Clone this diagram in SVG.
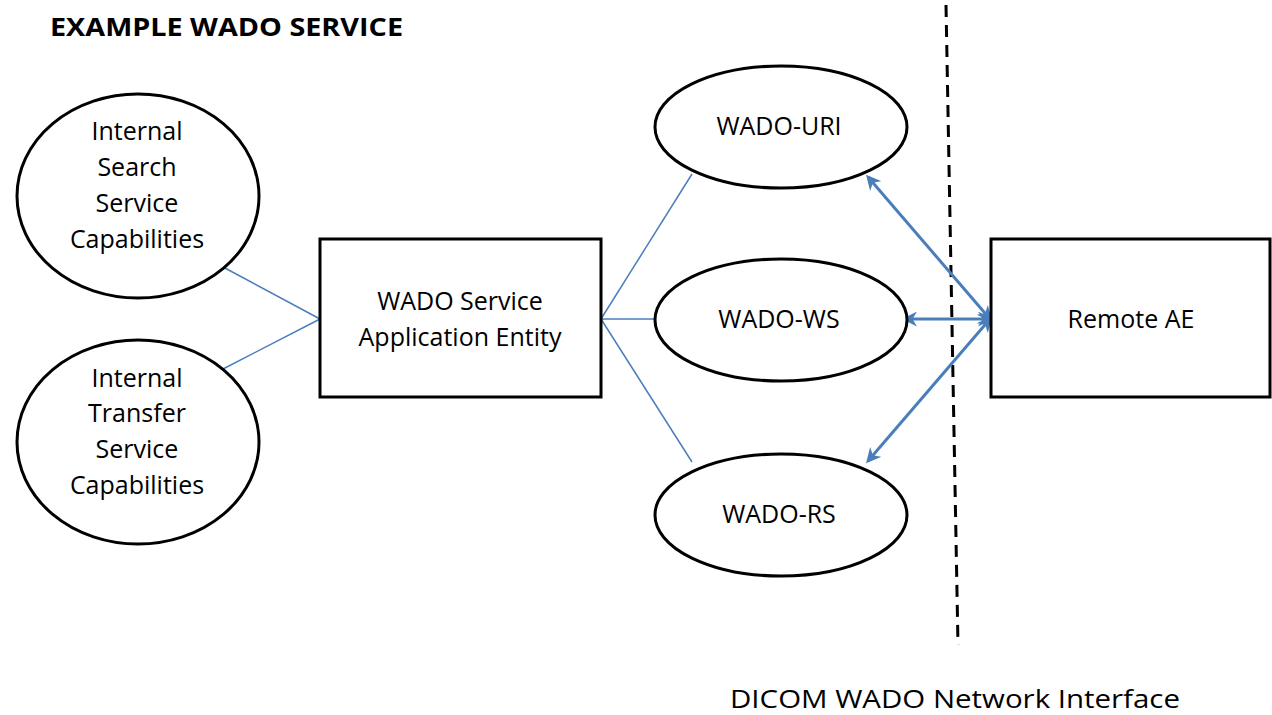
<svg xmlns="http://www.w3.org/2000/svg" width="1272" height="715" viewBox="0 0 1272 715">
<defs>
<style>
.node{fill:#fff;stroke:#000;stroke-width:3}
.t{font-family:"Open Sans","Liberation Sans",sans-serif;font-size:25px;fill:#000;text-anchor:middle}
.thin{stroke:#4a7ebb;stroke-width:1.5;fill:none}
.thick{stroke:#4a7ebb;stroke-width:3;fill:none;marker-start:url(#ah);marker-end:url(#ah)}
</style>
<marker id="ah" viewBox="0 0 10 10" refX="8" refY="5" markerWidth="5" markerHeight="5" orient="auto-start-reverse">
<path d="M0,0 L10,5 L0,10 L3,5 Z" fill="#4a7ebb"/>
</marker>
</defs>
<rect width="1272" height="715" fill="#fff"/>
<text x="50" y="36" font-family="'Open Sans','Liberation Sans',sans-serif" font-weight="bold" font-size="25" textLength="353" lengthAdjust="spacingAndGlyphs">EXAMPLE WADO SERVICE</text>
<g id="boundary">
<line x1="946" y1="5" x2="958" y2="645" stroke="#000" stroke-width="3" stroke-dasharray="12 8"/>
</g>
<g id="connectors">
<line class="thin" x1="223" y1="267" x2="320" y2="319"/>
<line class="thin" x1="223" y1="369" x2="320" y2="319"/>
<line class="thin" x1="601" y1="319" x2="692" y2="174"/>
<line class="thin" x1="601" y1="319" x2="656" y2="319"/>
<line class="thin" x1="601" y1="319" x2="692" y2="462"/>
<line class="thick" x1="990" y1="319" x2="868" y2="177"/>
<line class="thick" x1="990" y1="319" x2="905" y2="319"/>
<line class="thick" x1="990" y1="319" x2="868" y2="461"/>
</g>
<g id="search">
<ellipse class="node" cx="138" cy="196" rx="121" ry="102"/>
<text class="t" x="137" y="140">Internal</text>
<text class="t" x="137" y="176">Search</text>
<text class="t" x="137" y="212">Service</text>
<text class="t" x="137" y="248">Capabilities</text>
</g>
<g id="transfer">
<ellipse class="node" cx="138" cy="442" rx="121" ry="102"/>
<text class="t" x="137" y="387">Internal</text>
<text class="t" x="137" y="422">Transfer</text>
<text class="t" x="137" y="458">Service</text>
<text class="t" x="137" y="494">Capabilities</text>
</g>
<g id="ae">
<rect class="node" x="320" y="239" width="281" height="158"/>
<text class="t" x="460" y="310">WADO Service</text>
<text class="t" x="460" y="346">Application Entity</text>
</g>
<g id="uri">
<ellipse class="node" cx="781" cy="127" rx="126" ry="61"/>
<text class="t" x="779" y="135">WADO-URI</text>
</g>
<g id="ws">
<ellipse class="node" cx="781" cy="320" rx="126" ry="61"/>
<text class="t" x="779" y="328">WADO-WS</text>
</g>
<g id="rs">
<ellipse class="node" cx="781" cy="515" rx="126" ry="61"/>
<text class="t" x="779" y="523">WADO-RS</text>
</g>
<g id="remote">
<rect class="node" x="991" y="239" width="279" height="158"/>
<text class="t" x="1131" y="328">Remote AE</text>
</g>
<text x="955" y="708" class="t" font-size="26" textLength="450" lengthAdjust="spacingAndGlyphs">DICOM WADO Network Interface</text>
</svg>
